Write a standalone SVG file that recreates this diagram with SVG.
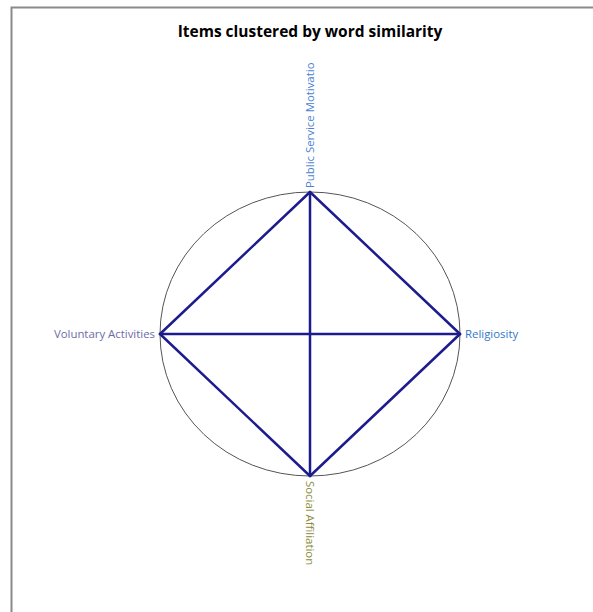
<svg xmlns="http://www.w3.org/2000/svg" width="593" height="612" viewBox="0 0 593 612">
<style>
.lbl{font-family:"Open Sans","Noto Sans","DejaVu Sans",sans-serif;font-size:11.4px}
.edge{stroke:#1c1c8e;stroke-width:2.5;fill:none;stroke-linecap:round}
</style>
<rect x="0" y="0" width="593" height="612" fill="#ffffff"/>
<rect x="11.5" y="7.5" width="600" height="620" fill="none" stroke="#8a8a8a" stroke-width="2"/>
<text x="310" y="37" text-anchor="middle" font-family="'Open Sans','Noto Sans',sans-serif" font-weight="bold" font-size="15.5" fill="#000">Items clustered by word similarity</text>
<ellipse cx="310" cy="334" rx="150" ry="142" fill="none" stroke="#555" stroke-width="1"/>
<g id="connectors">
<line class="edge" x1="310" y1="192" x2="460" y2="334"/>
<line class="edge" x1="460" y1="334" x2="310" y2="476"/>
<line class="edge" x1="310" y1="476" x2="160" y2="334"/>
<line class="edge" x1="160" y1="334" x2="310" y2="192"/>
<line class="edge" x1="310" y1="192" x2="310" y2="476"/>
<line class="edge" x1="160" y1="334" x2="460" y2="334"/>
</g>
<g id="node-psm">
<text class="lbl" transform="translate(314,188) rotate(-90)" fill="#4a7fd4">Public Service Motivatio</text>
</g>
<g id="node-religiosity">
<text class="lbl" x="465" y="338" fill="#2f78c8">Religiosity</text>
</g>
<g id="node-social">
<text class="lbl" transform="translate(306,481) rotate(90)" fill="#8c8c3c">Social Affiliation</text>
</g>
<g id="node-voluntary">
<text class="lbl" x="155" y="338" text-anchor="end" fill="#6c6ca8">Voluntary Activities</text>
</g>
</svg>
